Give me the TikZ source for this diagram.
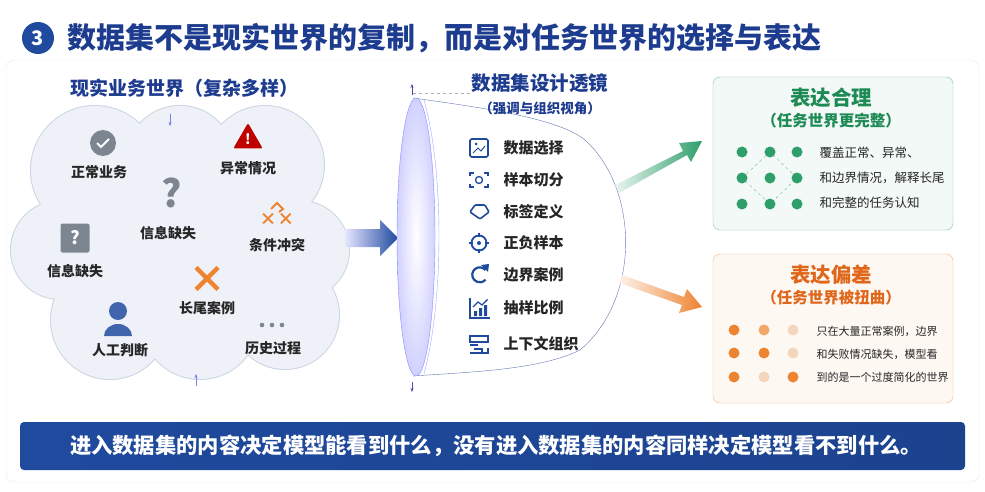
\documentclass[tikz,border=0pt]{standalone}
\usepackage{fontspec}
\setmainfont{Noto Sans CJK SC}
\usetikzlibrary{arrows.meta,shapes.geometric}
\definecolor{navy}{HTML}{1D3C8F}
\definecolor{iconb}{HTML}{1F4A9E}
\definecolor{gtx}{HTML}{1E8A55}
\definecolor{gdot}{HTML}{2E9E6A}
\definecolor{otx}{HTML}{E0661A}
\definecolor{odot}{HTML}{EE8330}
\definecolor{odot2}{HTML}{F2A868}
\definecolor{opale}{HTML}{F4D6BC}
\definecolor{cloudf}{HTML}{EEF2F8}
\definecolor{cloudd}{HTML}{CBD5E3}
\definecolor{grayi}{HTML}{7D8590}
\begin{document}
\begin{tikzpicture}[x=1pt,y=-1pt,
  lab/.style={font=\bfseries\fontsize{14}{16}\selectfont,text=black!85},
  item/.style={font=\bfseries\fontsize{15}{17}\selectfont,text=black!85,anchor=west},
  desc/.style={font=\fontsize{12.5}{14}\selectfont,text=black!85,anchor=west},
  gd/.style={circle,fill=gdot,minimum size=11pt,inner sep=0},
  od/.style={circle,minimum size=11pt,inner sep=0}]
\useasboundingbox (0,0) rectangle (985,492);
\fill[white] (0,0) rectangle (985,492);
\draw[black!8,rounded corners=8] (6,60) rectangle (979,482);
% title
\node[circle,fill=iconb,text=white,font=\bfseries\fontsize{20}{22}\selectfont,minimum size=32pt,inner sep=0] (num) at (38,38) {3};
\node[anchor=west,text=navy,font=\bfseries\fontsize{29}{32}\selectfont] (title) at (64,38) {数据集不是现实世界的复制，而是对任务世界的选择与表达};
% left heading
\node[text=navy,font=\bfseries\fontsize{19}{21}\selectfont] (lh) at (184,88) {现实业务世界（复杂多样）};
% cloud
\fill[cloudd] (95,170) circle (65) (180,160) circle (55) (265,165) circle (60) (60,250) circle (50) (300,250) circle (50) (110,320) circle (60) (200,320) circle (60) (285,315) circle (55) (180,240) circle (110);
\fill[cloudf] (95,170) circle (64) (180,160) circle (54) (265,165) circle (59) (60,250) circle (49) (300,250) circle (49) (110,320) circle (59) (200,320) circle (59) (285,315) circle (54) (180,240) circle (109);
\draw[-{Stealth[length=4pt]},cloudd!60!blue,thin] (170,114) -- (170,126);
\draw[-{Stealth[length=4pt]},cloudd!60!blue,thin] (196,386) -- (196,374);
% items
\node[circle,fill=grayi,minimum size=26pt,inner sep=0] (ic1) at (103,143) {};
\draw[white,line width=1.8pt] (97,143) -- (101,147) -- (109,139);
\node[lab] (t1) at (99,172) {正常业务};
\node[regular polygon,regular polygon sides=3,fill=red!75!black,minimum size=34pt,inner sep=0,rounded corners=2] (ic2) at (248,140) {};
\node[text=white,font=\bfseries\fontsize{14}{14}\selectfont] at (248,139) {!};
\node[lab] (t2) at (248,168) {异常情况};
\node[text=grayi,font=\bfseries\fontsize{38}{38}\selectfont] (ic3) at (172,193) {?};
\node[lab] (t3) at (168,233) {信息缺失};
\node[fill=grayi,rounded corners=2,minimum size=29pt,inner sep=0,text=white,font=\bfseries\fontsize{18}{18}\selectfont] (ic4) at (75,238) {?};
\node[lab] (t4) at (75,271) {信息缺失};
\node[text=odot,font=\bfseries\fontsize{17}{17}\selectfont] (ic5) at (277,219) {×\kern1pt×};
\draw[odot,line width=2pt] (271,209) -- (277,203) -- (283,209) -- (279,212);
\node[lab] (t5) at (277,245) {条件冲突};
\node[text=odot,font=\bfseries\fontsize{38}{38}\selectfont] (ic6) at (207,280) {×};
\node[lab] (t6) at (207,308) {长尾案例};
\fill[iconb!85] (118,311) circle (9);
\fill[iconb!85] (104,336) arc (180:360:14 and 12) -- cycle;
\node[lab] (t7) at (120,350) {人工判断};
\foreach \x in {262,272,282} \fill[grayi] (\x,325) circle (2.3);
\node[lab] (t8) at (273,348) {历史过程};
% blue arrow
\shade[left color=blue!10,right color=iconb] (345,229) -- (380,229) -- (380,220) -- (398,238) -- (380,256) -- (380,247) -- (345,247) -- cycle;
% lens funnel
\draw[navy!70,thin,fill=white] (413,98) .. controls (500,110) and (560,120) .. (585,140) .. controls (640,190) and (640,300) .. (580,350) .. controls (540,370) and (470,372) .. (413,376);
\shade[inner color=white,outer color=blue!18,draw=blue!45] (416,237) ellipse (19 and 139);
\draw[blue!35] (424,100) .. controls (444,170) and (444,300) .. (424,374);
\draw[dashed,gray!60] (413,93) -- (470,93);
\draw[-{Stealth[length=4pt]},gray!60!blue] (412,95) -- (412,84);
\draw[-{Stealth[length=4pt]},gray!60!blue] (412,382) -- (412,392);
\node[text=navy,font=\bfseries\fontsize{19.5}{21}\selectfont] (mh) at (540,83) {数据集设计透镜};
\node[text=navy,font=\bfseries\fontsize{13.5}{15}\selectfont] (ms) at (540,108) {（强调与组织视角）};
\foreach \y/\t [count=\i] in {148/数据选择,180/样本切分,212/标签定义,243/正负样本,275/边界案例,308/抽样比例,344/上下文组织}{
  \node[item] (L\i) at (500,\y) {\t};
}
\draw[iconb,line width=1.6pt,rounded corners=1.5] (470,139) rectangle (488,157);
\draw[iconb,line width=1pt] (473,153) -- (478,148) -- (481,151) -- (485,146);
\fill[iconb] (476,144) circle (1.5);
\draw[iconb,line width=1.8pt] (470,176) -- (470,173) -- (474,173) (484,173) -- (488,173) -- (488,176) (470,184) -- (470,187) -- (474,187) (484,187) -- (488,187) -- (488,184);
\draw[iconb,line width=1.3pt] (479,180) circle (3.5);
\draw[iconb,line width=1.6pt,rounded corners=1] (470,212) -- (475,205) -- (485,205) -- (489,212) -- (480,219) -- cycle;
\draw[iconb,line width=1.8pt] (479,243) circle (7.5);
\fill[iconb] (479,243) circle (2);
\draw[iconb,line width=1.8pt] (479,233) -- (479,237) (479,249) -- (479,253) (469,243) -- (473,243) (485,243) -- (489,243);
\draw[iconb,line width=2.2pt] (485.5,270) arc (-40:-320:7.5);
\fill[iconb] (481,265) -- (489,264) -- (488,272) -- cycle;
\draw[iconb,line width=1.4pt] (470,298) -- (470,318) -- (490,318);
\fill[iconb] (474,311) rectangle (477,316) (479,308) rectangle (482,316) (484,305) rectangle (487,316);
\draw[iconb,line width=1.2pt,-{Stealth[length=3pt]}] (473,307) -- (478,302) -- (482,305) -- (488,299);
\draw[iconb,line width=1.6pt] (470,336) rectangle (488,342);
\draw[iconb,line width=1.6pt] (470,345) -- (478,345) (474,349) -- (482,349) -- (482,352) (470,353) -- (488,353) -- (488,348);
% output arrows
\shade[left color=gdot!10,right color=gdot] (615,185) -- (683,151) -- (679,143) -- (702,141) -- (691,162) -- (687,155) -- (619,193) -- cycle;
\shade[left color=odot!10,right color=odot] (622,275) -- (684,297) -- (687,289) -- (702,307) -- (679,313) -- (682,305) -- (619,283) -- cycle;
% green box
\draw[gdot!60,fill=gdot!6,rounded corners=7] (713,77) rectangle (953,230);
\node[text=gtx,font=\bfseries\fontsize{20.5}{22}\selectfont] (gt) at (831,98) {表达合理};
\node[text=gtx,font=\bfseries\fontsize{15.5}{17}\selectfont] (gs) at (831,121) {（任务世界更完整）};
\draw[gdot!70,dashed,thin] (742,178) -- (770,152) -- (797,178) -- (770,204) -- cycle;
\foreach \x in {742,770,797} \foreach \y in {152,178,204} \node[gd] at (\x,\y) {};
\node[desc] (g1) at (816,153) {覆盖正常、异常、};
\node[desc] (g2) at (816,178) {和边界情况，解释长尾};
\node[desc] (g3) at (816,203) {和完整的任务认知};
% orange box
\draw[odot!60,fill=odot!6,rounded corners=7] (713,254) rectangle (953,403);
\node[text=otx,font=\bfseries\fontsize{20.5}{22}\selectfont] (ot) at (831,275) {表达偏差};
\node[text=otx,font=\bfseries\fontsize{15.5}{17}\selectfont] (os) at (831,298) {（任务世界被扭曲）};
\node[od,fill=odot] at (734,330) {}; \node[od,fill=odot2] at (764,330) {}; \node[od,fill=opale] at (793,330) {};
\node[od,fill=odot] at (734,353) {}; \node[od,fill=odot] at (764,353) {}; \node[od,fill=opale] at (793,353) {};
\node[od,fill=odot] at (734,377) {}; \node[od,fill=opale] at (764,377) {}; \node[od,fill=odot] at (793,377) {};
\node[desc,font=\fontsize{11}{12}\selectfont] (o1) at (813,331) {只在大量正常案例，边界};
\node[desc,font=\fontsize{11}{12}\selectfont] (o2) at (813,354) {和失败情况缺失，模型看};
\node[desc,font=\fontsize{11}{12}\selectfont] (o3) at (813,377) {到的是一个过度简化的世界};
% banner
\shade[left color=iconb,right color=iconb!90!black,rounded corners=4] (20,422) rectangle (965,470);
\node[text=white,font=\bfseries\fontsize{21.3}{23}\selectfont] (ban) at (496,446) {进入数据集的内容决定模型能看到什么，没有进入数据集的内容同样决定模型看不到什么。};
\end{tikzpicture}
\end{document}
